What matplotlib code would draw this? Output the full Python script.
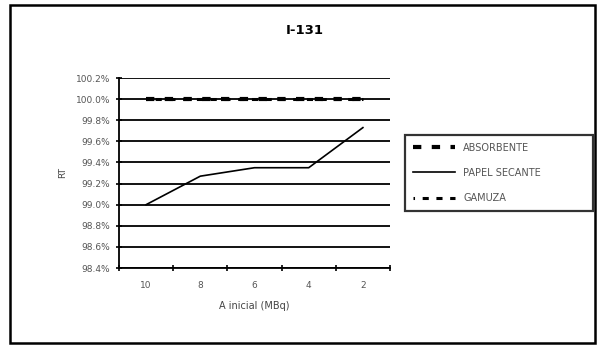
import numpy as np
import matplotlib.pyplot as plt
from matplotlib.patches import Rectangle

# data
activity = ["10", "8", "6", "4", "2"]
absorbente = [100.0, 100.0, 100.0, 100.0, 100.0]
papel_secante = [99.0, 99.27, 99.35, 99.35, 99.73]
gamuza = [100.0, 100.0, 100.0, 100.0, 100.0]
yticks = [98.4, 98.6, 98.8, 99.0, 99.2, 99.4, 99.6, 99.8, 100.0, 100.2]

W, H = 598, 346
fig = plt.figure(figsize=(W / 100, H / 100), dpi=100)
fig.patch.set_facecolor("white")

# outer frame
fig.patches.append(Rectangle((10 / W, 1 - 343 / H), 585 / W, 338 / H,
                             transform=fig.transFigure, fill=False,
                             edgecolor="black", linewidth=1.8))

ax = fig.add_axes([119 / W, 1 - 268 / H, 271 / W, 190 / H])
x = np.arange(len(activity))

ax.plot(x, absorbente, color="black", linewidth=3.0, linestyle=(0, (2, 2.5)),
        label="ABSORBENTE", zorder=3)
ax.plot(x, papel_secante, color="black", linewidth=1.2, label="PAPEL SECANTE", zorder=3)
ax.plot(x, gamuza, color="black", linewidth=2.2, linestyle=(1.5, (2, 2.5)),
        label="GAMUZA", zorder=3)

ax.set_xlim(-0.5, len(activity) - 0.5)
ax.set_ylim(98.4, 100.2)
ax.set_yticks(yticks)
ax.set_yticklabels([f"{v:.1f}%" for v in yticks], fontsize=6.5, color="#555555")
ax.set_xticks(x)
ax.set_xticklabels(activity, fontsize=6.5, color="#555555")
ax.set_xticks(np.arange(len(activity) + 1) - 0.5, minor=True)
ax.tick_params(axis="x", which="major", length=0, pad=9)
ax.tick_params(axis="x", which="minor", length=4, width=1.2, direction="inout")
ax.tick_params(axis="y", length=5, width=1.2, direction="inout", pad=4)
ax.grid(axis="y", color="black", linewidth=1.3)
ax.set_axisbelow(True)

for s in ["top", "right"]:
    ax.spines[s].set_visible(False)
ax.spines["left"].set_linewidth(1.3)
ax.spines["bottom"].set_linewidth(1.3)

ax.set_xlabel("A inicial (MBq)", fontsize=7, color="#444444", labelpad=8)
ax.set_ylabel("RT", fontsize=6.5, color="#444444", labelpad=6)

fig.text(305 / W, 1 - 30 / H, "I-131", ha="center", va="center",
         fontsize=9.5, fontweight="bold")

leg = fig.legend(loc="upper left",
                 bbox_to_anchor=(405 / W, 1 - 135 / H, 188 / W, 0.0),
                 mode="expand",
                 fontsize=7, frameon=True, fancybox=False, handlelength=4.3,
                 labelspacing=1.55, borderpad=0.8, handletextpad=0.9,
                 borderaxespad=0)
leg.get_frame().set_edgecolor("black")
leg.get_frame().set_linewidth(1.6)
for t in leg.get_texts():
    t.set_color("#555555")

fig.savefig("out.png", dpi=100)
